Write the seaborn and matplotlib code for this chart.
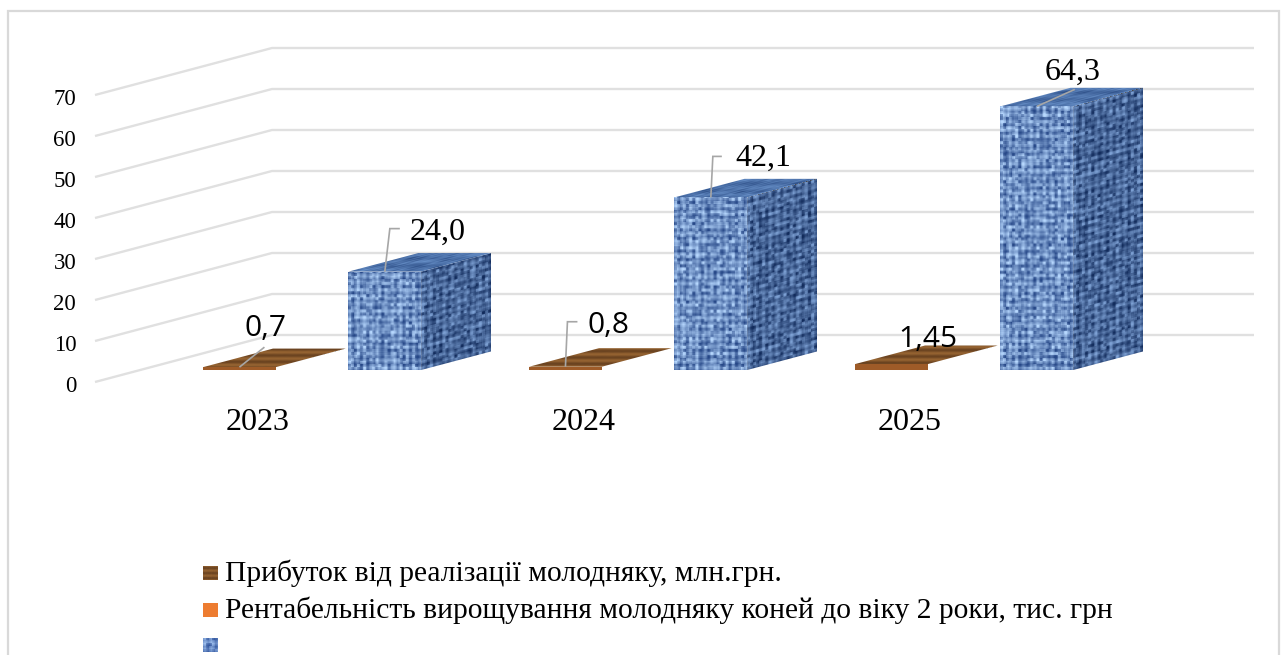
import numpy as np
import pandas as pd
import seaborn as sns
import matplotlib
matplotlib.use("Agg")
import matplotlib.pyplot as plt
from matplotlib.patches import Rectangle, Polygon
from matplotlib.path import Path
from matplotlib.transforms import Affine2D, IdentityTransform

years = ["2023", "2024", "2025"]
series_names = [
    "Прибуток від реалізації молодняку, млн.грн.",
    "Рентабельність вирощування молодняку коней до віку 2 роки, тис. грн",
    " ",
]
profit = [0.7, 0.8, 1.45]
profitability = [np.nan, np.nan, np.nan]
third_series = [24.0, 42.1, 64.3]
profit_labels = ["0,7", "0,8", "1,45"]
third_labels = ["24,0", "42,1", "64,3"]
y_ticks = [0, 10, 20, 30, 40, 50, 60, 70]

W, H = 1287, 655
WALL_DX, WALL_DY = 177, 47     # depth of the chart box, px
BAR_D0, BAR_D1 = 0.255, 0.65   # where the bars stand inside the box

df = pd.DataFrame({
    "year": years * 3,
    "series": [series_names[0]] * 3 + [series_names[1]] * 3 + [series_names[2]] * 3,
    "value": profit + profitability + third_series,
})

sns.set_theme(style="white", rc={"font.family": "Liberation Serif"})

fig = plt.figure(figsize=(W / 100, H / 100), dpi=100)
ax = fig.add_axes([95 / W, 1 - 382 / H, (1254 - WALL_DX - 95) / W, (382 - 95) / H])

sns.barplot(data=df, x="year", y="value", hue="series", order=years, hue_order=series_names,
            width=0.669, palette=["#8a5a2c", "#ed7d31", "#4f74ad"], legend=False, ax=ax, zorder=3)

xlim = ((95 - 267) / 326, (1077 - 267) / 326)
ax.set_xlim(xlim)
ax.set_ylim(0, 70)
sns.despine(ax=ax, left=True, bottom=True)


# textures are just pixel patterns for the fills, not data
def noise(h, w, seed):
    j, i = np.meshgrid(np.arange(w), np.arange(h))
    v = np.sin((i + seed) * 12.9898 + (j + seed) * 78.233) * 43758.5453
    return v - np.floor(v)


def knit(h, w, seed, lo, hi):
    cells = noise(h // 3 + 2, w // 3 + 2, seed)
    cells = np.kron(cells, np.ones((3, 3)))[:h, :w]
    j, i = np.meshgrid(np.arange(w), np.arange(h))
    weave = 0.5 + 0.25 * np.sin(i * 2 * np.pi / 7.0) + 0.25 * np.sin(j * 2 * np.pi / 7.0)
    t = np.clip(0.6 * cells + 0.55 * weave - 0.08, 0, 1)[..., None]
    lo, hi = np.array(lo), np.array(hi)
    return lo + (hi - lo) * t


def wood(h, w, seed):
    j, i = np.meshgrid(np.arange(w), np.arange(h))
    t = 0.5 + 0.5 * np.sin(i * 2 * np.pi / max(h / 3.0, 2) + seed)
    t = (t + 0.15 * noise(h, w, seed))[..., None] / 1.15
    lo, hi = np.array([0.40, 0.25, 0.12]), np.array([0.60, 0.40, 0.20])
    return lo + (hi - lo) * t


def face(origin, e1, e2, tex, z):
    # stretch a texture on to a parallelogram given in display pixels
    mtx = np.array([[e1[0], e2[0], origin[0]], [e1[1], e2[1], origin[1]], [0, 0, 1]])
    im = ax.imshow(tex, extent=(0, 1, 0, 1), transform=Affine2D(mtx), origin="lower",
                   interpolation="bilinear", aspect="auto", zorder=z)
    ox, oy = origin
    outline = Path([(ox, oy), (ox + e1[0], oy + e1[1]), (ox + e1[0] + e2[0], oy + e1[1] + e2[1]),
                    (ox + e2[0], oy + e2[1]), (ox, oy)])
    im.set_clip_box(fig.bbox)
    im.set_clip_path(outline, IdentityTransform())


# side walls and back wall gridlines
to_px = ax.transData.transform
for tick in y_ticks:
    x0, y0 = to_px((xlim[0], tick))
    x1, _ = to_px((xlim[1], tick))
    pts = [(x0, y0), (x0 + WALL_DX, y0 + WALL_DY), (x1 + WALL_DX, y0 + WALL_DY)]
    ax.add_patch(Polygon(pts, closed=False, fill=False, ec="#e0e0e0", lw=1.7,
                         transform=None, clip_on=False, zorder=1))

dx0, dy0 = WALL_DX * BAR_D0, WALL_DY * BAR_D0
ddx, ddy = WALL_DX * (BAR_D1 - BAR_D0), WALL_DY * (BAR_D1 - BAR_D0)

bars = [p for p in ax.patches if isinstance(p, Rectangle) and p.get_width() > 0 and p.get_height() > 0]
bars = sorted(bars, key=lambda p: p.get_x())
tops = {}
for n, bar in enumerate(bars):
    bar.set_visible(False)
    xa, ya = to_px((bar.get_x(), 0))
    xb, yb = to_px((bar.get_x() + bar.get_width(), bar.get_height()))
    xa, xb = xa + dx0, xb + dx0
    ya, yb = ya + dy0, yb + dy0
    w, h = int(xb - xa), max(int(yb - ya), 2)
    z = 5 + n * 0.1
    if bar.get_height() < 5:
        face((xa, ya), (xb - xa, 0), (0, yb - ya), np.array([[[0.62, 0.36, 0.16]]] * 2), z)
        face((xa, yb), (xb - xa, 0), (ddx, ddy), wood(20, w, n), z)
    else:
        face((xa, ya), (xb - xa, 0), (0, yb - ya),
             knit(h, w, n + 1, (0.15, 0.28, 0.53), (0.72, 0.85, 1.0)), z)
        face((xb, ya), (ddx, ddy), (0, yb - ya),
             knit(h, int(ddx), n + 7, (0.07, 0.17, 0.36), (0.50, 0.64, 0.84)), z)
        face((xa, yb), (xb - xa, 0), (ddx, ddy),
             knit(int(ddy), w, n + 13, (0.17, 0.30, 0.52), (0.42, 0.58, 0.80)), z)
    tops[bar.get_height()] = (xa, xb, yb)

ax.set_xlim(xlim)
ax.set_ylim(0, 70)

# leader lines + value labels, given as offsets from the front top edge of each bar
leaders = {
    0.7: [(0.5, 0), (25, 20)],
    0.8: [(0.5, 0), (2, 45), (12, 45)],
    1.45: [],
    24.0: [(0.5, 0), (5, 43), (15, 43)],
    42.1: [(0.5, 0), (2, 41), (11, 41)],
    64.3: [(0.5, 0), (38, 17)],
}
for vals, labs, fam, size, offs in [
    (profit, profit_labels, "Open Sans", 21.5,
     [(26, 39), (43, 41), (36, 25)]),
    (third_series, third_labels, "Liberation Serif", 23,
     [(53, 39), (52, 39), (36, 34)]),
]:
    for v, lab, off in zip(vals, labs, offs):
        xa, xb, yt = tops[v]
        xm = (xa + xb) / 2
        pts = leaders[v]
        if pts:
            line = [(xm, yt)] + [(xm + p[0], yt + p[1]) for p in pts[1:]]
            ax.add_patch(Polygon(line, closed=False, fill=False, ec="#a6a6a6", lw=1.2,
                                 transform=None, clip_on=False, zorder=8))
        ax.text(xm + off[0], yt + off[1], lab, transform=None, family=fam, fontsize=size,
                color="black", ha="center", va="center", zorder=9)

ax.set_xlabel("")
ax.set_ylabel("")
ax.set_yticks(y_ticks)
ax.set_xticks(range(len(years)))
ax.set_xticklabels(years)
ax.tick_params(axis="y", labelsize=16.5, pad=13.5, length=0, colors="black")
ax.tick_params(axis="x", labelsize=23, pad=19, length=0, colors="black")
for lab in ax.get_xticklabels():
    lab.set_transform(lab.get_transform() + Affine2D().translate(-9, 0))
for lab in ax.get_yticklabels():
    lab.set_fontfamily("Liberation Serif")
    lab.set_transform(lab.get_transform() + Affine2D().translate(0, -2))

# outer frame runs off the bottom of the picture
fig.add_artist(Rectangle((8 / W, -0.02), (1279 - 8) / W, 1.02 - 10.5 / H, transform=fig.transFigure,
                         fill=False, ec="#d9d9d9", lw=1.6))

# legend, keys are hand placed like the original text box
legend_y = [573, 610, 645]
key_tex = [wood(14, 15, 3), np.array([[[0.93, 0.49, 0.19]]] * 2),
           knit(15, 15, 5, (0.20, 0.34, 0.62), (0.62, 0.75, 0.93))]
for name, yp, tex in zip(series_names, legend_y, key_tex):
    face((203, H - yp - 7.5), (15, 0), (0, 15), tex, 10)
    if name.strip():
        fig.text(225 / W, 1 - yp / H, name, fontsize=21.25, family="Liberation Serif",
                 color="black", ha="left", va="center")

fig.savefig("out.png", dpi=100)
